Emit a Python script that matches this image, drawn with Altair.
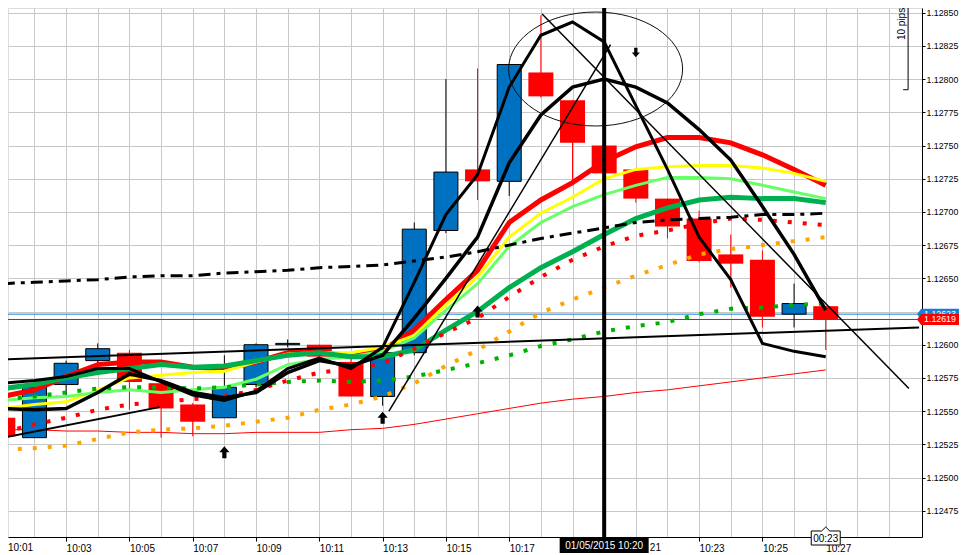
import altair as alt
import pandas as pd

FONT = "Liberation Sans"
GRID = "#c8c8c8"

# ---------------- data ----------------
minutes = list(range(1, 28))  # 10:01 .. 10:27
candle_open = [1.12545, 1.12530, 1.12570, 1.12588, 1.12594, 1.12571, 1.12555, 1.12545, 1.12570, 1.12600,
               1.12600, 1.12587, 1.12561, 1.12594, 1.12686, 1.12732, 1.12723, 1.12805, 1.12784, 1.12750,
               1.12732, 1.12710, 1.12695, 1.12668, 1.12664, 1.12623, 1.12629]
candle_high = [1.12547, 1.12571, 1.12588, 1.12601, 1.12596, 1.12571, 1.12556, 1.12592, 1.12601, 1.12604,
               1.12600, 1.12594, 1.12596, 1.12692, 1.12800, 1.12808, 1.12811, 1.12848, 1.12784, 1.12750,
               1.12732, 1.12710, 1.12701, 1.12683, 1.12671, 1.12646, 1.12629]
candle_low = [1.12529, 1.12530, 1.12561, 1.12585, 1.12551, 1.12530, 1.12531, 1.12545, 1.12568, 1.12598,
              1.12591, 1.12561, 1.12554, 1.12592, 1.12684, 1.12709, 1.12712, 1.12786, 1.12723, 1.12729,
              1.12707, 1.12680, 1.12662, 1.12643, 1.12613, 1.12613, 1.12596]
candle_close = [1.12531, 1.12568, 1.12586, 1.12597, 1.12572, 1.12552, 1.12542, 1.12568, 1.12600, 1.12601,
                1.12591, 1.12561, 1.12594, 1.12687, 1.12730, 1.12723, 1.12811, 1.12787, 1.12752, 1.12729,
                1.12710, 1.12689, 1.12663, 1.12661, 1.12621, 1.12631, 1.12619]

ma_red = [1.12561, 1.12566, 1.12576, 1.12585, 1.12587, 1.12587, 1.12583, 1.12582, 1.12587, 1.12594,
          1.12595, 1.12591, 1.12596, 1.12611, 1.12634, 1.12656, 1.12692, 1.12709, 1.12722, 1.12738,
          1.12749, 1.12756, 1.12756, 1.12752, 1.12743, 1.12732, 1.12720]
ma_yellow = [1.12552, 1.12555, 1.12557, 1.12566, 1.12575, 1.12577, 1.12579, 1.12580, 1.12587, 1.12593,
             1.12594, 1.12594, 1.12598, 1.12607, 1.12630, 1.12651, 1.12681, 1.12699, 1.12711, 1.12725,
             1.12732, 1.12734, 1.12735, 1.12735, 1.12733, 1.12729, 1.12723]
ma_lightgreen = [1.12558, 1.12560, 1.12561, 1.12564, 1.12566, 1.12564, 1.12566, 1.12568, 1.12574, 1.12585,
                 1.12589, 1.12591, 1.12595, 1.12605, 1.12626, 1.12646, 1.12674, 1.12692, 1.12704, 1.12713,
                 1.12720, 1.12726, 1.12726, 1.12725, 1.12720, 1.12715, 1.12710]
ma_darkgreen = [1.12567, 1.12570, 1.12575, 1.12579, 1.12582, 1.12585, 1.12583, 1.12584, 1.12588, 1.12592,
                1.12594, 1.12591, 1.12591, 1.12596, 1.12611, 1.12625, 1.12643, 1.12658, 1.12670, 1.12683,
                1.12695, 1.12703, 1.12709, 1.12711, 1.12710, 1.12710, 1.12707]
ma_black_fast = [1.12571, 1.12573, 1.12576, 1.12582, 1.12582, 1.12572, 1.12562, 1.12558, 1.12565, 1.12582,
                 1.12590, 1.12582, 1.12598, 1.12647, 1.12698, 1.12728, 1.12794, 1.12833, 1.12843, 1.12828,
                 1.12780, 1.12732, 1.12681, 1.12649, 1.12601, 1.12595, 1.12591]
ma_black_slow = [1.12552, 1.12551, 1.12552, 1.12564, 1.12578, 1.12573, 1.12564, 1.12560, 1.12564, 1.12579,
                 1.12588, 1.12584, 1.12592, 1.12620, 1.12650, 1.12681, 1.12737, 1.12773, 1.12794, 1.12800,
                 1.12794, 1.12782, 1.12762, 1.12739, 1.12704, 1.12668, 1.12626]
ma_dashdot = [1.12646, 1.12647, 1.12648, 1.12649, 1.12651, 1.12652, 1.12652, 1.12654, 1.12655, 1.12656,
              1.12658, 1.12659, 1.12660, 1.12663, 1.12666, 1.12670, 1.12675, 1.12680, 1.12684, 1.12688,
              1.12692, 1.12694, 1.12695, 1.12696, 1.12698, 1.12698, 1.12699]
dots_red = [1.12534, 1.12540, 1.12545, 1.12551, 1.12555, 1.12557, 1.12559, 1.12561, 1.12566, 1.12573,
            1.12579, 1.12582, 1.12586, 1.12597, 1.12609, 1.12620, 1.12636, 1.12651, 1.12664, 1.12674,
            1.12682, 1.12686, 1.12691, 1.12695, 1.12694, 1.12692, 1.12690]
dots_orange = [1.12521, 1.12522, 1.12524, 1.12529, 1.12534, 1.12536, 1.12537, 1.12539, 1.12542, 1.12545,
               1.12551, 1.12555, 1.12561, 1.12571, 1.12584, 1.12596, 1.12610, 1.12624, 1.12634, 1.12643,
               1.12652, 1.12660, 1.12668, 1.12672, 1.12675, 1.12678, 1.12681]
dots_green = [1.12559, 1.12561, 1.12564, 1.12567, 1.12568, 1.12568, 1.12567, 1.12568, 1.12570, 1.12572,
              1.12573, 1.12572, 1.12573, 1.12576, 1.12581, 1.12586, 1.12592, 1.12599, 1.12604, 1.12610,
              1.12614, 1.12617, 1.12623, 1.12627, 1.12628, 1.12630, 1.12631]
thin_red = [1.12536, 1.12536, 1.12535, 1.12535, 1.12534, 1.12534, 1.12533, 1.12533, 1.12534, 1.12534,
            1.12534, 1.12536, 1.12537, 1.12540, 1.12544, 1.12548, 1.12552, 1.12556, 1.12559, 1.12561,
            1.12564, 1.12566, 1.12569, 1.12572, 1.12575, 1.12578, 1.12581]

# straight trend lines (start minute, start price, end minute, end price, width)
trend_t1 = [1.0, 1.0, 13.20, 18.04]
trend_p1 = [1.12589, 1.12530, 1.12550, 1.12849]
trend_t2 = [29.95, 5.95, 20.20, 29.63]
trend_p2 = [1.12613, 1.12553, 1.12826, 1.12567]
trend_w = [2.0, 2.0, 1.5, 1.5]

up_arrow_t = [8, 13, 16]
up_arrow_p = [1.12519, 1.12545, 1.12625]
down_arrow_t = [21]
down_arrow_p = [1.12820]

ellipse_t = [19.73]
ellipse_p = [1.128076]

ask_price = [1.12623]
bid_price = [1.12619]
ask_label = ["1.12623"]
bid_label = ["1.12619"]

cursor_minute = [20]
cursor_label = ["01/05/2015 10:20"]
timer_minute = [27]
timer_label = ["00:23"]
partial_label_minute = [21]
partial_label = ["21"]

pips_t = [29.603]
pips_hook_t = [29.447]
pips_low = [1.12792]
pips_high = [1.12892]
pips_text_t = [29.416]
pips_text_p = [1.128415]
pips_label = ["10 pips"]

y_ticks = [1.12475, 1.12500, 1.12525, 1.12550, 1.12575, 1.12600, 1.12625, 1.12650,
           1.12675, 1.12700, 1.12725, 1.12750, 1.12775, 1.12800, 1.12825, 1.12850]
x_grid_minutes = list(range(2, 30))

# ---------------- scales / axes ----------------
PLOT_W = 914
PLOT_H = 529
X_SCALE = alt.Scale(domain=[1.3219, 29.884], nice=False, zero=False)
Y_SCALE = alt.Scale(domain=[1.124552, 1.1285354], nice=False, zero=False)

LABELLED = "datum.value % 2 == 1 && datum.value <= 27"
X_AXIS = alt.Axis(
    values=x_grid_minutes, grid=True, gridColor=GRID, gridWidth=1,
    domainColor="black", domainWidth=1, tickColor="black", tickSize=4,
    tickOpacity={"condition": {"test": LABELLED, "value": 1}, "value": 0},
    labelExpr="(" + LABELLED + ") && datum.value != 19 && datum.value != 21 ? '10:' + (datum.value < 10 ? '0' : '') + datum.value : ''",
    labelAlign="left", labelFont=FONT, labelFontSize=10, labelColor="black", labelPadding=2,
    labelFlush=False, labelOverlap=False, title=None,
)
Y_AXIS = alt.Axis(
    orient="right", values=y_ticks, format=".5f", grid=True, gridColor=GRID, gridWidth=1,
    domainColor="black", domainWidth=1, tickColor="black", tickSize=3,
    labelFont=FONT, labelFontSize=8.8, labelColor="black", labelPadding=1,
    labelFlush=False, labelOverlap=False, title=None,
)


def X(field):
    return alt.X(field, type="quantitative", scale=X_SCALE, axis=X_AXIS, title=None)


def Y(field):
    return alt.Y(field, type="quantitative", scale=Y_SCALE, axis=Y_AXIS, title=None)


candles = pd.DataFrame({"t": minutes, "o": candle_open, "h": candle_high,
                        "l": candle_low, "c": candle_close})
mas = pd.DataFrame({"t": minutes, "red": ma_red, "yellow": ma_yellow, "lgreen": ma_lightgreen,
                    "dgreen": ma_darkgreen, "bfast": ma_black_fast, "bslow": ma_black_slow,
                    "dd": ma_dashdot, "rdot": dots_red, "odot": dots_orange, "gdot": dots_green,
                    "thin": thin_red})
trends = pd.DataFrame({"t1": trend_t1, "p1": trend_p1, "t2": trend_t2, "p2": trend_p2, "w": trend_w})

layers = []

# horizontal bid / ask lines
layers.append(alt.Chart(pd.DataFrame({"p": ask_price})).mark_rule(color="#1a7fd4", strokeWidth=1)
              .encode(y=Y("p")))
layers.append(alt.Chart(pd.DataFrame({"p": bid_price})).mark_rule(color="#ff0000", strokeWidth=1)
              .encode(y=Y("p")))

# thin red line
layers.append(alt.Chart(mas).mark_line(color="#ff0000", strokeWidth=1, clip=True)
              .encode(x=X("t"), y=Y("thin")))

# candles
up = "datum.c >= datum.o"
dn = "datum.c < datum.o"
layers.append(alt.Chart(candles).transform_filter(up).mark_rule(color="black", strokeWidth=1, clip=True)
              .encode(x=X("t"), y=Y("l"), y2="h"))
layers.append(alt.Chart(candles).transform_filter(dn).mark_rule(color="#ff0000", strokeWidth=1, clip=True)
              .encode(x=X("t"), y=Y("l"), y2="h"))
layers.append(alt.Chart(candles).transform_filter(up)
              .mark_bar(size=24, fill="#0070c0", stroke="black", strokeWidth=1, clip=True)
              .encode(x=X("t"), y=Y("o"), y2="c"))
layers.append(alt.Chart(candles).transform_filter(dn)
              .mark_bar(size=25, fill="#ff0000", strokeWidth=0, clip=True)
              .encode(x=X("t"), y=Y("o"), y2="c"))

# solid moving averages
for col, colr, w in [("red", "#ff0000", 5), ("yellow", "#ffff00", 3),
                     ("lgreen", "#66ff66", 3), ("dgreen", "#00b050", 5)]:
    layers.append(alt.Chart(mas).mark_line(color=colr, strokeWidth=w, clip=True)
                  .encode(x=X("t"), y=Y(col)))

# dotted moving averages
for col, colr in [("odot", "#ffa500"), ("gdot", "#00b000"), ("rdot", "#ff0000")]:
    layers.append(alt.Chart(mas).mark_line(color=colr, strokeWidth=4, strokeDash=[4, 11],
                                           strokeCap="butt", clip=True)
                  .encode(x=X("t"), y=Y(col)))

# dash-dot black
layers.append(alt.Chart(mas).mark_line(color="black", strokeWidth=3, strokeDash=[12, 6, 4, 6], clip=True)
              .encode(x=X("t"), y=Y("dd")))

# black moving averages
layers.append(alt.Chart(mas).mark_line(color="black", strokeWidth=3.5, clip=True)
              .encode(x=X("t"), y=Y("bslow")))
layers.append(alt.Chart(mas).mark_line(color="black", strokeWidth=3, clip=True)
              .encode(x=X("t"), y=Y("bfast")))

# trend lines
layers.append(alt.Chart(trends).mark_rule(color="black", clip=True)
              .encode(x=X("t1"), y=Y("p1"), x2="t2", y2="p2",
                      strokeWidth=alt.StrokeWidth("w:Q", scale=None)))

# ellipse
ELLIPSE = "M -1 0 A 1 0.655 0 1 1 1 0 A 1 0.655 0 1 1 -1 0 Z"
layers.append(alt.Chart(pd.DataFrame({"t": ellipse_t, "p": ellipse_p}))
              .mark_point(shape=ELLIPSE, size=30276, filled=False, stroke="#111111",
                          strokeWidth=1, opacity=1)
              .encode(x=X("t"), y=Y("p")))

# arrows
UP_ARROW = "M 0 -1 L 0.85 0 L 0.35 0 L 0.35 1 L -0.35 1 L -0.35 0 L -0.85 0 Z"
DOWN_ARROW = "M 0 1 L 0.85 0 L 0.35 0 L 0.35 -1 L -0.35 -1 L -0.35 0 L -0.85 0 Z"
layers.append(alt.Chart(pd.DataFrame({"t": up_arrow_t, "p": up_arrow_p}))
              .mark_point(shape=UP_ARROW, size=144, filled=True, color="black", opacity=1)
              .encode(x=X("t"), y=Y("p")))
layers.append(alt.Chart(pd.DataFrame({"t": down_arrow_t, "p": down_arrow_p}))
              .mark_point(shape=DOWN_ARROW, size=90, filled=True, color="black", opacity=1)
              .encode(x=X("t"), y=Y("p")))

# 10 pips bracket
pips = pd.DataFrame({"t": pips_t, "th": pips_hook_t, "lo": pips_low, "hi": pips_high})
layers.append(alt.Chart(pips).mark_rule(color="black", strokeWidth=1)
              .encode(x=X("t"), y=Y("lo"), y2="hi"))
layers.append(alt.Chart(pips).mark_rule(color="black", strokeWidth=1)
              .encode(x=X("th"), x2="t", y=Y("lo")))
layers.append(alt.Chart(pd.DataFrame({"t": pips_text_t, "p": pips_text_p, "s": pips_label}))
              .mark_text(angle=270, font=FONT, fontSize=10, color="black", align="center", baseline="middle")
              .encode(x=X("t"), y=Y("p"), text="s:N"))

# partially hidden "10:21" label (only "21" shows beside the cursor box)
layers.append(alt.Chart(pd.DataFrame({"t": partial_label_minute, "s": partial_label}))
              .mark_text(font=FONT, fontSize=10, color="black", align="left", baseline="top", dx=14)
              .encode(x=X("t"), y=alt.value(535), text="s:N"))

# vertical cursor line at 10:20
cursor = pd.DataFrame({"t": cursor_minute, "s": cursor_label})
layers.append(alt.Chart(cursor).mark_rule(color="black", strokeWidth=4)
              .encode(x=X("t"), y=alt.value(0), y2=alt.value(535)))
BOX = "M -1 -0.18 L 1 -0.18 L 1 0.18 L -1 0.18 Z"
layers.append(alt.Chart(cursor).mark_point(shape=BOX, size=7921, filled=True, color="black", opacity=1)
              .encode(x=X("t"), y=alt.value(537)))
layers.append(alt.Chart(cursor).mark_text(font=FONT, fontSize=10, color="white", align="center", baseline="middle")
              .encode(x=X("t"), y=alt.value(537.5), text="s:N"))

# 00:23 timer box
timer = pd.DataFrame({"t": timer_minute, "s": timer_label})
TIMER = "M -1 -0.483 L -0.28 -0.483 L 0 -0.76 L 0.28 -0.483 L 1 -0.483 L 1 0.483 L -1 0.483 Z"
layers.append(alt.Chart(timer).mark_point(shape=TIMER, size=841, filled=True, fill="white",
                                          stroke="black", strokeWidth=1, opacity=1)
              .encode(x=X("t"), y=alt.value(530)))
layers.append(alt.Chart(timer).mark_text(font=FONT, fontSize=10, color="black", align="center", baseline="middle")
              .encode(x=X("t"), y=alt.value(530.5), text="s:N"))

# left-most time label (flush to the left edge)
layers.append(alt.Chart(pd.DataFrame({"s": ["10:01"]}))
              .mark_text(font=FONT, fontSize=10, color="black", align="left", baseline="top")
              .encode(x=alt.value(0), y=alt.value(535), text="s:N"))

# price tags on the right axis
TAG = "M -1 0 L -0.8 -0.26 L 1 -0.26 L 1 0.26 L -0.8 0.26 Z"
for prices, labels, colr in [(ask_price, ask_label, "#1a7fd4"), (bid_price, bid_label, "#ff0000")]:
    tag = pd.DataFrame({"p": prices, "s": labels})
    layers.append(alt.Chart(tag).mark_point(shape=TAG, size=1764, filled=True, color=colr, opacity=1)
                  .encode(x=alt.value(930), y=Y("p")))
    layers.append(alt.Chart(tag).mark_text(font=FONT, fontSize=8.8, color="white", align="center",
                                           baseline="middle")
                  .encode(x=alt.value(932), y=Y("p"), text="s:N"))

chart = (
    alt.layer(*layers)
    .properties(width=PLOT_W, height=PLOT_H,
                autosize=alt.AutoSizeParams(type="none"),
                padding={"left": 0, "top": 0, "right": 37, "bottom": 18})
    .configure_view(stroke=None)
    .configure(background="white")
)

chart.save("out.html", embed_options={"renderer": "svg", "actions": False})
